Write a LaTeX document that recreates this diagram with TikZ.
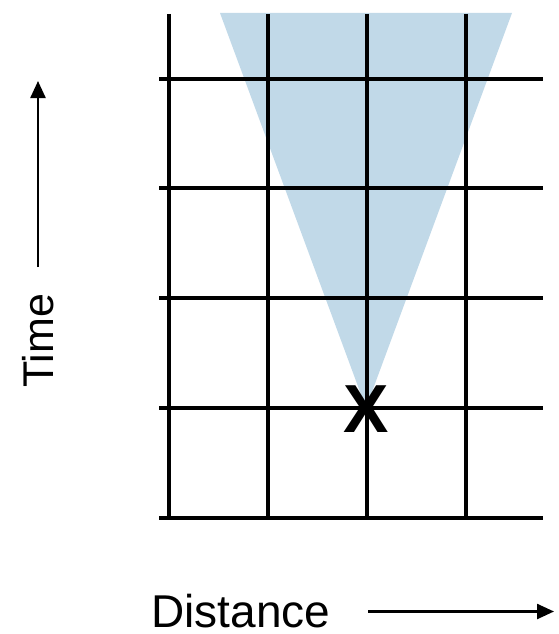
\documentclass[tikz,border=0pt]{standalone}
\usepackage{fontspec}
\setmainfont{Liberation Sans}
\usetikzlibrary{arrows.meta}
\definecolor{conecol}{RGB}{193,217,232}
\begin{document}
\begin{tikzpicture}[x=1pt,y=-1pt,
  gridline/.style={line width=3.4pt,black},
  axisarrow/.style={line width=2.4pt,-{Triangle[length=17pt,width=15pt]}},
  label/.style={inner sep=0pt,font=\fontsize{45}{50}\selectfont}]
\useasboundingbox (0,0) rectangle (558,634);
% light cone
\fill[conecol] (220,13) -- (512,13) -- (366,408) -- cycle;
% grid
\foreach \x in {169,268,367,466} \draw[gridline] (\x,14) -- (\x,518);
\foreach \y in {79,188,298,408,518} \draw[gridline] (159,\y) -- (543,\y);
% event
\node[inner sep=0pt,font=\fontsize{68}{70}\selectfont\bfseries] (ev) at (366,409) {X};
% axes
\coordinate (t0) at (38,267);
\coordinate (t1) at (38,81);
\draw[axisarrow] (t0) -- (t1);
\node[label,rotate=90,font=\fontsize{43}{48}\selectfont] (time) at (38.5,341) {Time};
\node[label,font=\fontsize{46}{50}\selectfont] (dist) at (241,611) {Distance};
\coordinate (d0) at (368,611.5);
\coordinate (d1) at (554,611.5);
\draw[axisarrow] (d0) -- (d1);
\end{tikzpicture}
\end{document}
